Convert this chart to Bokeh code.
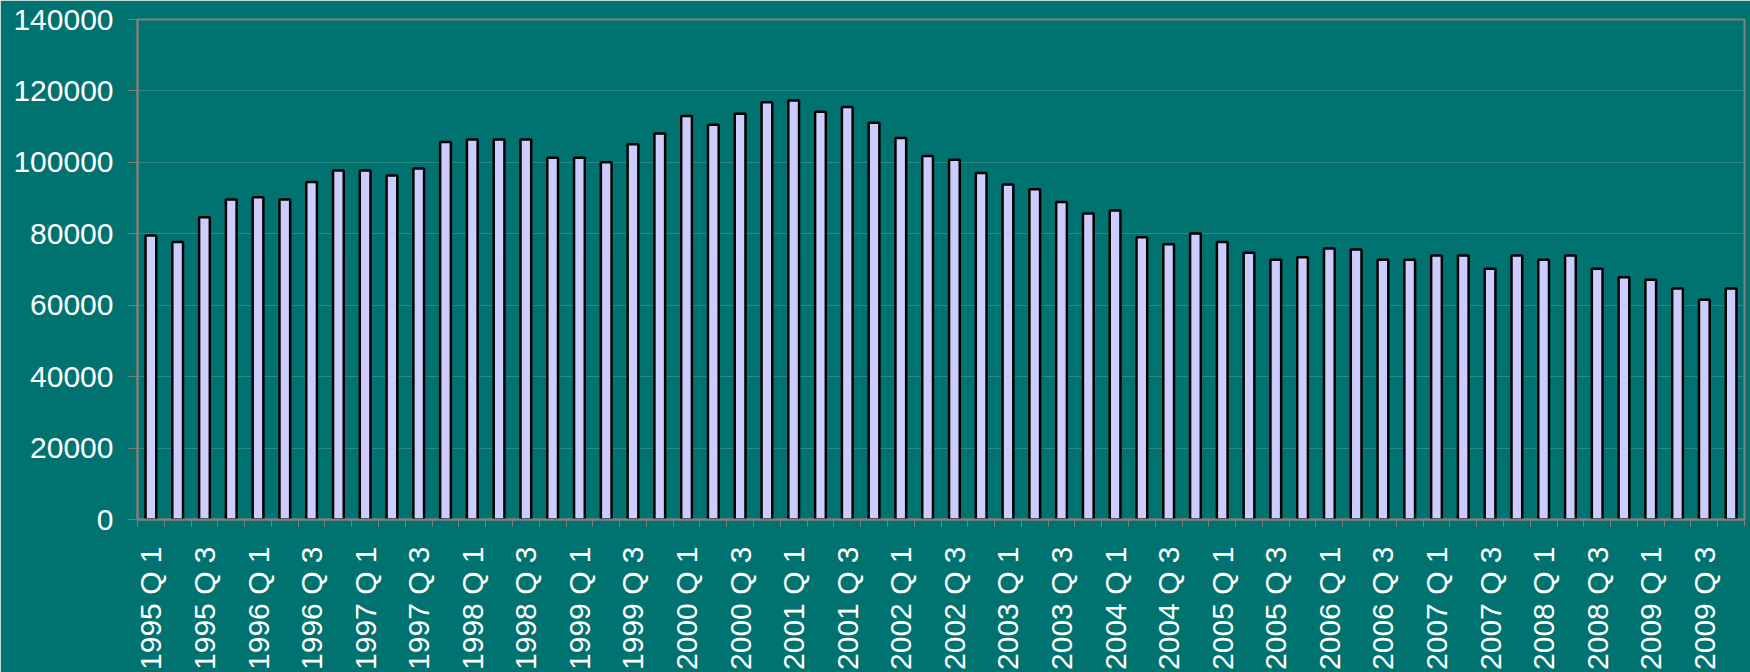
from bokeh.plotting import figure
from bokeh.models import FixedTicker, ColumnDataSource, Range1d
from bokeh.embed import file_html
from bokeh.resources import INLINE

years = list(range(1995, 2010))
quarters = [f"{y} Q {q}" for y in years for q in (1, 2, 3, 4)]
values = [
    79500, 77700, 84600, 89600,
    90200, 89600, 94500, 97700,
    97700, 96300, 98300, 105700,
    106400, 106400, 106400, 101300,
    101300, 100000, 105100, 108100,
    113000, 110500, 113600, 116800,
    117300, 114200, 115500, 111100,
    106800, 101800, 100700, 97000,
    93800, 92500, 88900, 85700,
    86500, 79000, 77100, 80100,
    77700, 74700, 72700, 73400,
    75900, 75600, 72700, 72700,
    73900, 73900, 70200, 73900,
    72700, 73900, 70200, 67800,
    67100, 64700, 61500, 64700,
]
y_ticks = [0, 20000, 40000, 60000, 80000, 100000, 120000, 140000]

BG = "#007371"
n = len(quarters)
xs = list(range(1, n + 1))
src = ColumnDataSource(dict(x=xs, top=values, label=quarters))

p = figure(width=1750, height=672, output_backend="svg", toolbar_location=None,
           x_range=Range1d(0.5, n + 0.5), y_range=Range1d(0, 140000),
           min_border_left=137, min_border_right=6, min_border_top=19,
           min_border_bottom=153)
p.background_fill_color = BG
p.border_fill_color = BG
p.outline_line_color = "#808080"
p.outline_line_width = 2

p.vbar(x="x", top="top", bottom=0, width=0.4, source=src,
       fill_color="#CCCCFF", line_color="black", line_width=2.5)

# x axis: labels every other quarter, ticks at category boundaries
label_pos = xs[::2]
boundaries = [i + 0.5 for i in range(0, n + 1)]
p.xaxis.ticker = FixedTicker(ticks=label_pos, minor_ticks=boundaries)
p.xaxis.major_label_overrides = {x: quarters[x - 1] for x in label_pos}
p.xaxis.major_label_orientation = 1.5707963
p.xaxis.major_tick_out = 0
p.xaxis.major_tick_in = 0
p.xaxis.minor_tick_out = 7
p.xaxis.minor_tick_in = 0
p.xaxis.minor_tick_line_color = "#808080"
p.xaxis.axis_line_color = "#808080"
p.xaxis.axis_line_width = 2
p.xaxis.major_label_standoff = 20
p.xaxis.major_label_text_font = "Liberation Sans"
p.xaxis.major_label_text_font_size = "30px"
p.xaxis.major_label_text_color = "white"

p.yaxis.ticker = FixedTicker(ticks=y_ticks)
p.yaxis.major_label_overrides = {v: str(v) for v in y_ticks}
p.yaxis.major_tick_out = 9
p.yaxis.major_tick_in = 0
p.yaxis.major_tick_line_color = "#808080"
p.yaxis.minor_tick_out = 0
p.yaxis.minor_tick_in = 0
p.yaxis.axis_line_color = "#808080"
p.yaxis.axis_line_width = 2
p.yaxis.major_label_standoff = 15
p.yaxis.major_label_text_font = "Liberation Sans"
p.yaxis.major_label_text_font_size = "30px"
p.yaxis.major_label_text_color = "white"

p.xgrid.grid_line_color = None
p.ygrid.grid_line_color = "#2f8a87"
p.ygrid.grid_line_width = 1

open("out.html", "w").write(file_html(p, INLINE))
